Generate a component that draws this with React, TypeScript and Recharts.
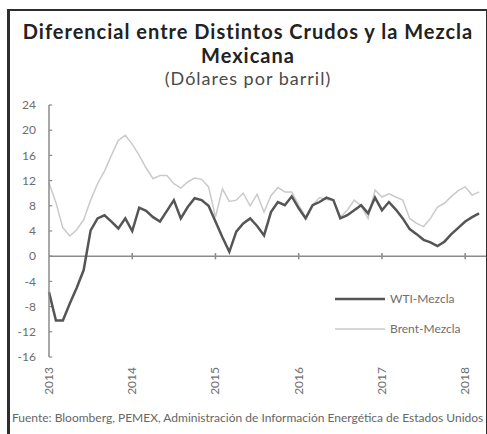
import React from "react";
import { LineChart, Line, XAxis, YAxis, ReferenceLine } from "recharts";

// monthly, Jan 2013 .. Mar 2018
const wtiMezcla = [
  -5.7, -10.2, -10.2, -7.5, -5.0, -2.2, 4.1, 6.0, 6.5, 5.5, 4.4, 6.0,
  4.0, 7.7, 7.2, 6.2, 5.5, 7.2, 8.9, 6.0, 7.8, 9.2, 8.9, 8.0,
  5.5, 3.0, 0.7, 3.9, 5.2, 6.0, 4.8, 3.3, 7.0, 8.6, 8.1, 9.5,
  7.6, 6.0, 8.1, 8.6, 9.3, 8.9, 6.0, 6.5, 7.3, 8.1, 6.8, 9.3,
  7.3, 8.6, 7.4, 6.0, 4.3, 3.5, 2.6, 2.2, 1.6, 2.3, 3.5, 4.5,
  5.5, 6.2, 6.8,
];
const brentMezcla = [
  11.6, 8.5, 4.5, 3.2, 4.2, 5.8, 8.9, 11.5, 13.5, 16.0, 18.4, 19.2,
  17.8, 16.0, 14.0, 12.3, 12.8, 12.8, 11.5, 10.8, 11.8, 12.4, 12.2, 11.0,
  6.2, 10.7, 8.7, 8.9, 10.0, 8.0, 9.8, 7.0, 9.6, 10.9, 10.2, 10.2,
  8.1, 6.2, 8.1, 9.3, 9.0, 8.9, 6.2, 7.3, 8.9, 8.0, 6.0, 10.5,
  9.4, 9.9, 9.4, 8.9, 6.0, 5.2, 4.7, 6.0, 7.8, 8.4, 9.5, 10.4,
  11.0, 9.7, 10.2,
];
const yearTicks = [0, 12, 24, 36, 48, 60];
const yearLabels = ["2013", "2014", "2015", "2016", "2017", "2018"];
const yTicks = [-16, -12, -8, -4, 0, 4, 8, 12, 16, 20, 24];

const data = wtiMezcla.map((w, i) => ({ m: i, wti: w, brent: brentMezcla[i] }));

const FONT = "Lato, 'Open Sans', sans-serif";
const AXIS = "#8a8a8a";
const LABEL = "#6e6e6e";
const WTI_COLOR = "#555555";
const BRENT_COLOR = "#cacaca";

function YearTick(props: any) {
  const { x, y, payload } = props;
  const label = yearLabels[yearTicks.indexOf(payload.value)];
  return (
    <text
      transform={`translate(${x + 4},${y + 2}) rotate(-90)`}
      textAnchor="end"
      fontSize={12}
      fontFamily={FONT}
      fill={LABEL}
    >
      {label}
    </text>
  );
}

function LegendBox() {
  const rows = [
    { name: "WTI-Mezcla", color: WTI_COLOR, w: 2.5 },
    { name: "Brent-Mezcla", color: BRENT_COLOR, w: 1.5 },
  ];
  return (
    <svg width={150} height={50} style={{ position: "absolute", left: 335, top: 291 }}>
      {rows.map((r, i) => (
        <g key={r.name} transform={`translate(0,${i * 30 + 8})`}>
          <line x1={0} x2={50} y1={0} y2={0} stroke={r.color} strokeWidth={r.w} />
          <text x={55} y={4} fontSize={12} fontFamily={FONT} fill={LABEL}>
            {r.name}
          </text>
        </g>
      ))}
    </svg>
  );
}

const titleLine = (top: number, size: number, weight: number, color: string, spacing: number) => ({
  position: "absolute" as const,
  left: 10,
  top,
  width: 476,
  textAlign: "center" as const,
  color,
  fontSize: size,
  fontWeight: weight,
  letterSpacing: spacing,
  lineHeight: "24px",
  whiteSpace: "nowrap" as const,
});

export default function App() {
  return (
    <div
      style={{
        position: "absolute",
        left: 0,
        top: 0,
        width: 487,
        height: 434,
        overflow: "hidden",
        background: "#fff",
        fontFamily: FONT,
      }}
    >
      <div
        style={{
          position: "absolute",
          left: 7,
          top: 9,
          width: 476,
          height: 460,
          borderTop: "2px solid #2e2e2e",
          borderRight: "2px solid #2e2e2e",
          borderLeft: "3px solid #2e2e2e",
        }}
      />
      <div style={titleLine(19, 20, 700, "#222", 1)}>
        Diferencial entre Distintos Crudos y la Mezcla
      </div>
      <div style={titleLine(43, 20, 700, "#222", 1)}>Mexicana</div>
      <div style={titleLine(66, 18, 400, "#4a4a4a", 1)}>(Dólares por barril)</div>
      <div style={{ position: "absolute", left: 0, top: 0 }}>
        <LineChart
          width={487}
          height={434}
          data={data}
          margin={{ top: 105, right: 1, bottom: 32, left: 0 }}
        >
          <XAxis
            dataKey="m"
            type="number"
            domain={[0, 63]}
            ticks={yearTicks}
            axisLine={false}
            tickLine={false}
            height={45}
            tick={<YearTick />}
          />
          <YAxis
            type="number"
            domain={[-16, 24]}
            ticks={yTicks}
            width={49}
            axisLine={{ stroke: AXIS, strokeWidth: 1.5 }}
            tickLine={false}
            tickSize={4}
            tickMargin={9}
            tick={{ fontSize: 12, fill: LABEL, fontFamily: FONT }}
            interval={0}
          />
          <ReferenceLine y={0} stroke={AXIS} strokeWidth={1.5} />
          {yTicks.map((v) => (
            <ReferenceLine
              key={"yt" + v}
              segment={[
                { x: 0, y: v },
                { x: 0.45, y: v },
              ]}
              stroke={AXIS}
              strokeWidth={1.2}
            />
          ))}
          {yearTicks.slice(1).map((v) => (
            <ReferenceLine
              key={"xt" + v}
              segment={[
                { x: v, y: -0.5 },
                { x: v, y: 0.5 },
              ]}
              stroke={AXIS}
              strokeWidth={1.5}
            />
          ))}
          <Line
            dataKey="brent"
            stroke={BRENT_COLOR}
            strokeWidth={1.5}
            dot={false}
            isAnimationActive={false}
          />
          <Line
            dataKey="wti"
            stroke={WTI_COLOR}
            strokeWidth={2.5}
            dot={false}
            isAnimationActive={false}
          />
        </LineChart>
      </div>
      <LegendBox />
      <div
        style={{
          position: "absolute",
          left: 12,
          top: 410,
          fontSize: 12,
          color: "#666",
          whiteSpace: "nowrap",
        }}
      >
        Fuente: Bloomberg, PEMEX, Administración de Información Energética de Estados Unidos
      </div>
    </div>
  );
}
